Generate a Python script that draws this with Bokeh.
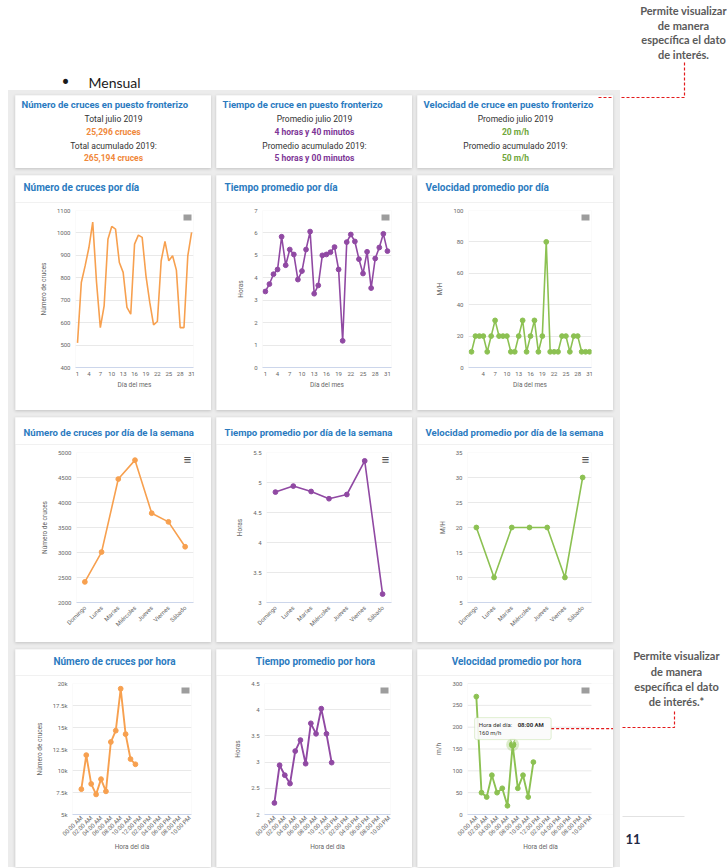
import math
from bokeh.plotting import figure
from bokeh.models import (Range1d, FactorRange, FixedTicker, BoxAnnotation, Label, Column, Row,
                          Spacer)
from bokeh.core.properties import value
from bokeh.embed import file_html
from bokeh.resources import INLINE

# ---------------- data ----------------
days = list(range(1, 32))
cruces_dia = [510, 779, 853, 935, 1048, 780, 578, 675, 972, 1029, 1017, 868, 824, 668, 638,
              950, 990, 980, 809, 690, 590, 605, 876, 962, 876, 898, 834, 578, 578, 898, 1002]
tiempo_dia = [3.39, 3.72, 4.16, 4.37, 5.83, 4.56, 5.26, 5.04, 3.92, 4.30, 5.26, 6.06, 3.29, 3.66, 5.00,
              5.04, 5.14, 5.37, 4.37, 1.19, 5.59, 5.93, 5.62, 4.83, 4.19, 5.16, 3.54, 4.86, 5.35, 5.96, 5.19]
velocidad_dia = [10, 20, 20, 20, 10, 20, 30, 20, 20, 20, 10, 10, 20, 30, 10, 20,
                 30, 10, 20, 80, 10, 10, 10, 20, 20, 10, 20, 20, 10, 10, 10]

weekdays = ["Domingo", "Lunes", "Martes", "Miércoles", "Jueves", "Viernes", "Sábado"]
cruces_semana = [2412, 3009, 4469, 4847, 3786, 3613, 3115]
tiempo_semana = [4.84, 4.94, 4.85, 4.73, 4.80, 5.36, 3.14]
velocidad_semana = [20, 10, 20, 20, 20, 10, 30]

hours = list(range(12))
cruces_hora = [7900, 11800, 8500, 7300, 9050, 7650, 13300, 14600, 19400, 14200, 11350, 10750]
tiempo_hora = [2.22, 2.94, 2.75, 2.59, 3.21, 3.42, 2.97, 3.74, 3.54, 4.02, 3.54, 2.99]
velocidad_hora = [270, 50, 40, 90, 50, 60, 20, 160, 60, 90, 40, 120]
tooltip_index = 7
tooltip_hour_label = "08:00 AM"

day_ticks = [1, 4, 7, 10, 13, 16, 19, 22, 25, 28, 31]
day_ticks_vel = [4, 7, 10, 13, 16, 19, 22, 25, 28, 31]
hour_ticks = [0, 2, 4, 6, 8, 10, 12, 14, 16, 18, 20, 22]
hour_labels = ["00:00 AM", "02:00 AM", "04:00 AM", "06:00 AM", "08:00 AM", "10:00 AM",
               "12:00 PM", "02:00 PM", "04:00 PM", "06:00 PM", "08:00 PM", "10:00 PM"]

y_ticks_cd = [400, 500, 600, 700, 800, 900, 1000, 1100]
y_ticks_td = [0, 1, 2, 3, 4, 5, 6, 7]
y_ticks_vd = [0, 20, 40, 60, 80, 100]
y_ticks_cs = [2000, 2500, 3000, 3500, 4000, 4500, 5000]
y_ticks_ts = [3, 3.5, 4, 4.5, 5, 5.5]
y_labels_ts = ["3", "3.5", "4", "4.5", "5", "5.5"]
y_ticks_vs = [5, 10, 15, 20, 25, 30, 35]
y_ticks_ch = [5000, 7500, 10000, 12500, 15000, 17500, 20000]
y_labels_ch = ["5k", "7.5k", "10k", "12.5k", "15k", "17.5k", "20k"]
y_ticks_th = [2, 2.5, 3, 3.5, 4, 4.5]
y_labels_th = ["2", "2.5", "3", "3.5", "4", "4.5"]
y_ticks_vh = [0, 50, 100, 150, 200, 250, 300]

kpi_titles = ["Número de cruces en puesto fronterizo", "Tiempo de cruce en puesto fronterizo",
              "Velocidad de cruce en puesto fronterizo"]
kpi_label1 = ["Total julio 2019", "Promedio julio 2019", "Promedio julio 2019"]
kpi_value1 = ["25,296 cruces", "4 horas y 40 minutos", "20 m/h"]
kpi_label2 = ["Total acumulado 2019:", "Promedio acumulado 2019:", "Promedio acumulado 2019:"]
kpi_value2 = ["265,194 cruces", "5 horas y 00 minutos", "50 m/h"]

note_top = ["Permite visualizar", "de manera", "específica el dato", "de interés."]
note_bottom = ["Permite visualizar", "de manera", "específica el dato", "de interés.*"]

# ---------------- styles ----------------
FONT = "Liberation Sans Narrow, Roboto, sans-serif"
NOTE_FONT = "Lato"
CARD_W = 196
BLUE = "#2b7bbf"
ORANGE = "#f7a04f"
PURPLE = "#9049a3"
GREEN = "#8cc152"
KPI_COLORS = ["#f0883a", "#7d3596", "#6fa63a"]
GRID = "#e9e9e9"
AXIS = "#ccd6eb"
TXT = "#666666"
RED = "#e31a1c"
CARD_STYLE = {"box-shadow": "0 1px 3px rgba(0,0,0,0.18)"}


def base_fig(w, h, xr, yr, borders=(0, 0, 0, 0), styles=None):
    bl, br, bt, bb = borders
    p = figure(width=w, height=h, x_range=xr, y_range=yr, output_backend="svg",
               toolbar_location=None, tools="", min_border_left=bl, min_border_right=br,
               min_border_top=bt, min_border_bottom=bb, outline_line_color=None,
               background_fill_color="white", border_fill_color="white",
               styles=styles if styles is not None else {})
    p.frame_align = False
    return p


def kpi_card(i):
    p = base_fig(CARD_W, 73, Range1d(0, CARD_W), Range1d(73, 0), styles=CARD_STYLE)
    p.axis.visible = False
    p.grid.visible = False
    p.text(x=[6], y=[9], text=[kpi_titles[i]], text_font=value(FONT), text_font_size="9.5px",
           text_font_style="bold", text_color=BLUE, text_align="left", text_baseline="middle")
    lines = [kpi_label1[i], kpi_value1[i], kpi_label2[i], kpi_value2[i]]
    ys = [23, 36, 50, 62]
    for k in range(4):
        p.text(x=[CARD_W / 2], y=[ys[k]], text=[lines[k]], text_font=value(FONT),
               text_font_size="8.5px", text_font_style="bold" if k % 2 else "normal",
               text_color=KPI_COLORS[i] if k % 2 else "#333333",
               text_align="center", text_baseline="middle")
    return p


def title_fig(title, th, ty, center=False, size="10px"):
    t = base_fig(CARD_W, th, Range1d(0, CARD_W), Range1d(th, 0))
    t.axis.visible = False
    t.grid.visible = False
    t.text(x=[99 if center else 8], y=[ty], text=[title], text_font=value(FONT),
           text_font_size=size, text_font_style="bold", text_color=BLUE,
           text_align="center" if center else "left", text_baseline="middle")
    return t


def chart(h, borders, xr, xspan, yr, xs, ys, color, yticks, ylabel, ylabels=None,
          xlabel=None, xticks=None, xlabels=None, rotate=False, markers=True,
          menu="box", menu_x=None, extend_right=0, lw=1.6, xlabel_standoff=2, xtick_standoff=4):
    bl, br, bt, bb = borders
    fw = CARD_W - bl - br
    fh = h - bt - bb
    pxx = fw / xspan
    pxy = fh / (yr.end - yr.start)
    orig_end = menu_x if menu_x is not None else xr.end
    if extend_right:
        xr.end = xr.end + extend_right / pxx
        br -= extend_right
    p = base_fig(CARD_W, h, xr, yr, (bl, br, bt, bb))

    p.yaxis.ticker = FixedTicker(ticks=yticks, minor_ticks=[])
    if ylabels:
        p.yaxis.major_label_overrides = dict(zip(yticks, ylabels))
    for ax in (p.xaxis, p.yaxis):
        ax.major_tick_line_color = None
        ax.minor_tick_line_color = None
        ax.major_tick_out = 0
        ax.major_tick_in = 0
        ax.minor_tick_out = 0
        ax.minor_tick_in = 0
        ax.major_label_text_font = FONT
        ax.major_label_text_font_size = "6px"
        ax.major_label_text_color = TXT
        ax.axis_label_text_font = FONT
        ax.axis_label_text_font_size = "6.5px"
        ax.axis_label_text_font_style = "normal"
        ax.axis_label_text_color = TXT
    p.yaxis.axis_line_color = None
    p.yaxis.major_label_standoff = 5
    p.yaxis.axis_label = ylabel
    p.yaxis.axis_label_standoff = 6
    p.xgrid.grid_line_color = None
    if extend_right:
        p.ygrid.grid_line_color = None
        p.segment(x0=[xr.start] * len(yticks), y0=yticks, x1=[orig_end] * len(yticks), y1=yticks,
                  line_color=GRID, line_width=1, level="underlay")
        p.xaxis.bounds = (xr.start, orig_end)
    else:
        p.ygrid.grid_line_color = GRID

    if xticks is not None:
        p.xaxis.ticker = FixedTicker(ticks=xticks, minor_ticks=[])
        if xlabels:
            p.xaxis.major_label_overrides = dict(zip(xticks, xlabels))
    p.xaxis.axis_line_color = AXIS
    p.xaxis.major_label_standoff = xtick_standoff
    if rotate:
        p.xaxis.major_label_orientation = math.pi / 4
    if xlabel:
        p.xaxis.axis_label = xlabel
        p.xaxis.axis_label_standoff = xlabel_standoff

    p.line(xs, ys, line_color=color, line_width=lw)
    if markers:
        p.scatter(xs, ys, size=4.8, fill_color=color, line_color=color)

    # export-menu icon in the top-right corner of the plotting area
    mx = orig_end - 6 / pxx
    my = yr.end - 7 / pxy
    if menu == "box":
        p.rect(x=[mx], y=[my], width=8, height=6, width_units="screen", height_units="screen",
               fill_color="#9d9d9d", line_color=None)
    else:
        p.text(x=[mx], y=[my], text=["≡"], text_font=value("DejaVu Sans"), text_font_size="10px",
               text_font_style="bold", text_color="#555555", text_align="center",
               text_baseline="middle")
    p._pxx = pxx
    p._pxy = pxy
    return p


def card(title, th, ty, chart_fig, center=False, size="10px"):
    return Column(children=[title_fig(title, th, ty, center, size), chart_fig], styles=CARD_STYLE)


# ---------------- header ----------------
header = base_fig(620, 90, Range1d(0, 620), Range1d(90, 0))
header.axis.visible = False
header.grid.visible = False
header.text(x=[60], y=[81], text=["•"], text_font=value("DejaVu Sans"), text_font_size="17px",
            text_color="#1a1a1a", text_align="left", text_baseline="middle")
header.text(x=[88], y=[82], text=["Mensual"], text_font=value(NOTE_FONT), text_font_size="14px",
            text_color="#1a1a1a", text_align="left", text_baseline="middle")

# ---------------- KPI row ----------------
kpis = [kpi_card(i) for i in range(3)]
kpis[2].segment(x0=[181], y0=[2], x1=[CARD_W], y1=[2], line_color=RED, line_width=1.2,
                line_dash="3 2")

# ---------------- row 1 ----------------
c1 = chart(208, (60, 18, 8, 43), Range1d(0.47, 31.5), 31.03,
           Range1d(400, 1100), days, cruces_dia, ORANGE, y_ticks_cd, "Número de cruces",
           xlabel="Día del mes", xticks=day_ticks, markers=False)
c2 = chart(208, (46, 21, 8, 43), Range1d(0.3, 32.0), 31.7,
           Range1d(0, 7), days, tiempo_dia, PURPLE, y_ticks_td, "Horas",
           xlabel="Día del mes", xticks=day_ticks)
c3 = chart(208, (51, 22, 8, 43), Range1d(0.24, 31.5), 31.26,
           Range1d(0, 100), days, velocidad_dia, GREEN, y_ticks_vd, "M/H",
           xlabel="Día del mes", xticks=day_ticks_vel)
row1 = [card("Número de cruces por día", 27, 12, c1),
        card("Tiempo promedio por día", 27, 12, c2),
        card("Velocidad promedio por día", 27, 12, c3)]

# ---------------- row 2 ----------------
c4 = chart(198, (61, 18, 8, 40), FactorRange(factors=weekdays), 7,
           Range1d(2000, 5000), weekdays, cruces_semana, ORANGE, y_ticks_cs, "Número de cruces",
           rotate=True, menu="lines", menu_x=7)
c5 = chart(198, (50, 21, 8, 40), FactorRange(factors=weekdays), 7,
           Range1d(3, 5.5), weekdays, tiempo_semana, PURPLE, y_ticks_ts, "Horas", ylabels=y_labels_ts,
           rotate=True, menu="lines", menu_x=7)
c6 = chart(198, (50, 22, 8, 40), FactorRange(factors=weekdays), 7,
           Range1d(5, 35), weekdays, velocidad_semana, GREEN, y_ticks_vs, "M/H",
           rotate=True, menu="lines", menu_x=7)
row2 = [card("Número de cruces por día de la semana", 27, 15, c4, size="9.6px"),
        card("Tiempo promedio por día de la semana", 27, 15, c5, size="9.6px"),
        card("Velocidad promedio por día de la semana", 27, 15, c6, size="9.6px")]

# ---------------- row 3 ----------------
c7 = chart(192, (57, 20, 8, 53), Range1d(-1.8, 22.4), 24.2,
           Range1d(5000, 20000), hours, cruces_hora, ORANGE, y_ticks_ch, "Número de cruces",
           ylabels=y_labels_ch, xlabel="Hora del día", xticks=hour_ticks, xlabels=hour_labels,
           rotate=True, lw=1.9, xlabel_standoff=0, xtick_standoff=2)
c8 = chart(192, (48, 22, 8, 53), Range1d(-1.9, 22.3), 24.2,
           Range1d(2, 4.5), hours, tiempo_hora, PURPLE, y_ticks_th, "Horas",
           ylabels=y_labels_th, xlabel="Hora del día", xticks=hour_ticks, xlabels=hour_labels,
           rotate=True, lw=1.9, xlabel_standoff=0, xtick_standoff=2)
c9 = chart(192, (50, 22, 8, 53), Range1d(-1.7, 22.2), 23.9,
           Range1d(0, 300), hours, velocidad_hora, GREEN, y_ticks_vh, "m/h",
           xlabel="Hora del día", xticks=hour_ticks, xlabels=hour_labels,
           rotate=True, extend_right=22, lw=1.9, xlabel_standoff=0, xtick_standoff=2)

# highlighted point + tooltip
px, py = hours[tooltip_index], velocidad_hora[tooltip_index]
dx, dy = c9._pxx, c9._pxy
c9.scatter([px], [py], size=13, fill_color=GREEN, fill_alpha=0.3, line_color=None)
c9.scatter([px], [py], size=6.5, fill_color=GREEN, line_color=GREEN)
c9.add_layout(BoxAnnotation(left=px - 38 / dx, right=px + 38.5 / dx, bottom=py + 5 / dy, top=py + 27 / dy,
                            fill_color="#fbfbfb", fill_alpha=0.9, line_color="#9ccc6e", line_width=1,
                            border_radius=2))
c9.scatter([px], [py + 4 / dy], marker="inverted_triangle", size=5, fill_color="#fbfbfb",
           line_color="#9ccc6e", line_width=1)
for tx, ty, tt, st in [(px - 34 / dx, py + 20.5 / dy, "Hora del día:", "normal"),
                       (px + 5 / dx, py + 20.5 / dy, tooltip_hour_label, "bold"),
                       (px - 34 / dx, py + 12.5 / dy, f"{py} m/h", "normal")]:
    c9.add_layout(Label(x=tx, y=ty, text=tt, text_font=FONT, text_font_size="6px",
                        text_font_style=st, text_color="#333333", text_align="left",
                        text_baseline="middle"))
c9.segment(x0=[px + 38.5 / dx], y0=[py + 16 / dy], x1=[c9.x_range.end], y1=[py + 16 / dy],
           line_color=RED, line_width=1.2, line_dash="3 2")
row3 = [card("Número de cruces por hora", 26, 12, c7, center=True),
        card("Tiempo promedio por hora", 26, 12, c8, center=True),
        card("Velocidad promedio por hora", 26, 12, c9, center=True)]

# ---------------- right-hand notes ----------------
right = base_fig(107, 868, Range1d(620, 727), Range1d(868, 0))
right.axis.visible = False
right.grid.visible = False
right.text(x=[683] * 4, y=[10, 24.5, 39, 53.5], text=note_top, text_font=value(NOTE_FONT),
           text_font_size="11px", text_font_style="bold", text_color="#5a5a5a",
           text_align="center", text_baseline="middle")
right.line([684, 684, 620], [62, 97, 97], line_color=RED, line_width=1.2, line_dash="3 2")
right.text(x=[676] * 4, y=[655, 670.5, 686, 700.5], text=note_bottom, text_font=value(NOTE_FONT),
           text_font_size="11px", text_font_style="bold", text_color="#5a5a5a",
           text_align="center", text_baseline="middle")
right.line([674, 674, 620], [711, 727, 727], line_color=RED, line_width=1.2, line_dash="3 2")
right.segment(x0=[622], y0=[816], x1=[684], y1=[816], line_color="#e2e2e2", line_width=1)
right.text(x=[625], y=[838], text=["11"], text_font=value(NOTE_FONT), text_font_size="13px",
           text_font_style="bold", text_color="#1f2a44", text_align="left", text_baseline="middle")

# ---------------- layout ----------------
dash = Column(children=[Row(children=kpis, spacing=5),
                        Row(children=row1, spacing=5),
                        Row(children=row2, spacing=5),
                        Row(children=row3, spacing=5)],
              spacing=7,
              styles={"background-color": "#ececec", "padding": "5px 7px 0px 7px"})
left = Column(children=[header, Row(children=[Spacer(width=8, height=10), dash])])
page = Row(children=[left, right])

open("out.html", "w").write(file_html(page, INLINE))
